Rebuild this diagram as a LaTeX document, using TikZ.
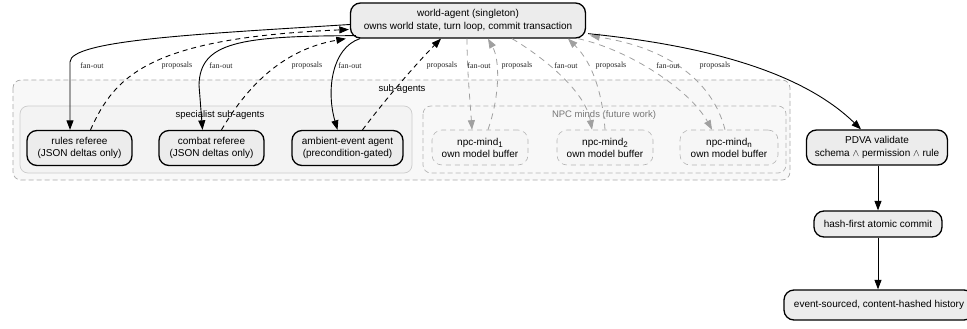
\documentclass[tikz,border=0pt]{standalone}
\usepackage{fontspec}
\setmainfont{Liberation Sans}
\newfontfamily\lblfont{Liberation Serif}
\usetikzlibrary{arrows.meta,calc}
\definecolor{nodefill}{HTML}{ECECEC}
\definecolor{outerfill}{HTML}{F8F8F8}
\definecolor{specfill}{HTML}{F3F3F3}
\definecolor{npcfill}{HTML}{F6F6F6}
\definecolor{clusterline}{HTML}{AAAAAA}
\definecolor{specline}{HTML}{CCCCCC}
\definecolor{npcline}{HTML}{B4B4B4}
\definecolor{grayedge}{HTML}{A0A0A0}
\definecolor{graytext}{HTML}{777777}
\tikzset{
  agent/.style={draw=black, line width=1.3pt, fill=nodefill, rounded corners=10pt,
    align=center, inner sep=0pt, font=\fontsize{10}{12.8}\selectfont, minimum height=34pt},
  npcbox/.style={draw=npcline, line width=0.6pt, dash pattern=on 5pt off 4pt, fill=npcfill,
    rounded corners=10pt, align=center, inner sep=0pt,
    font=\fontsize{10}{12}\selectfont, minimum height=35pt, minimum width=96pt},
  outercluster/.style={draw=clusterline, line width=0.7pt, dash pattern=on 5pt off 3pt,
    fill=outerfill, rounded corners=8pt},
  speccluster/.style={draw=specline, line width=0.7pt, fill=specfill, rounded corners=8pt},
  npccluster/.style={draw=npcline, line width=0.7pt, dash pattern=on 5pt off 3pt,
    fill=outerfill, rounded corners=8pt},
  clabel/.style={font=\fontsize{9.5}{11}\selectfont, inner sep=0pt},
  elabel/.style={font=\lblfont\fontsize{8}{9}\selectfont, inner sep=0pt, text=black!85},
  tip/.style={-{Triangle[length=9.5pt,width=7pt]}},
  fan/.style={tip, draw=black, line width=0.9pt},
  prop/.style={tip, draw=black, line width=0.9pt, dash pattern=on 5pt off 4pt},
  gfan/.style={-{Triangle[length=9.5pt,width=7pt]}, draw=grayedge, line width=0.8pt,
    dash pattern=on 6pt off 5pt},
}
\newcommand{\npcsub}[1]{\raisebox{-2.5pt}{\fontsize{8}{8}\selectfont #1}}
\begin{document}
\begin{tikzpicture}[x=1pt,y=-1pt]
\useasboundingbox (0,0) rectangle (967,329);

% clusters
\draw[outercluster] (13,80) rectangle (790,180);
\node[clabel] (lsub) at (402,89) {sub-agents};
\draw[speccluster] (20,106) rectangle (412,173);
\node[clabel] (lspec) at (220,115) {specialist sub-agents};
\draw[npccluster] (423,106) rectangle (786,173);
\node[clabel, text=graytext] (lnpc) at (604,115) {NPC minds (future work)};

% nodes
\node[agent, minimum width=235pt, minimum height=35pt] (world) at (468,20.5)
  {world-agent (singleton)\\owns world state, turn loop, commit transaction};
\node[agent, minimum width=105pt, minimum height=35pt] (rules) at (79.5,148)
  {rules referee\\(JSON deltas only)};
\node[agent, minimum width=105pt, minimum height=35pt] (combat) at (211.5,148)
  {combat referee\\(JSON deltas only)};
\node[agent, minimum width=111pt, minimum height=35pt] (ambient) at (347.5,148)
  {ambient-event agent\\(precondition-gated)};
\node[npcbox] (npc1) at (480,147.5) {npc-mind\npcsub{1}\\own model buffer};
\node[npcbox] (npc2) at (605,147.5) {npc-mind\npcsub{2}\\own model buffer};
\node[npcbox, minimum width=98pt] (npcn) at (729,147.5) {npc-mind\npcsub{n}\\own model buffer};
\node[agent, minimum width=141pt, minimum height=35pt] (pdva) at (877,147.5)
  {PDVA validate\\schema $\wedge$ permission $\wedge$ rule};
\node[agent, minimum width=128pt, minimum height=26pt] (hash) at (878,224)
  {hash-first atomic commit};
\node[agent, minimum width=190pt, minimum height=30pt] (hist) at (879,305)
  {event-sourced, content-hashed history};

% edges: specialist sub-agents
\draw[fan] ($(world.west)+(0,4)$) .. controls (200,34) and (70,40) .. (70,62)
  -- ($(rules.north)+(-9.5,0)$);
\draw[prop] ($(rules.north)+(11,0)$) .. controls (115,75) and (150,38) .. ($(world.west)+(-1,9)$);
\draw[fan] ($(world.south west)+(6,-3)$) .. controls (240,36) and (200,42) .. (199,85)
  -- ($(combat.north)+(-9,0)$);
\draw[prop] ($(combat.north)+(10,0)$) .. controls (245,90) and (280,50) .. ($(world.south west)+(-4,0)$);
\draw[fan] ($(world.south west)+(10,0)$) .. controls (332,48) and (326,90) .. ($(ambient.north)+(-10,0)$);
\draw[prop] ($(ambient.north)+(15,0)$) .. controls (385,100) and (415,65) .. ($(world.south)+(-27,0)$);

% edges: NPC minds
\draw[gfan] ($(world.south)+(-1,0)$) .. controls (467,70) and (470,100) .. ($(npc1.north)+(-8,0)$);
\draw[gfan] ($(npc1.north)+(8,0)$) .. controls (500,95) and (500,60) .. ($(world.south)+(20,0)$);
\draw[gfan] ($(world.south)+(44,0)$) .. controls (540,55) and (585,90) .. ($(npc2.north)+(-13,0)$);
\draw[gfan] ($(npc2.north)+(0,0)$) .. controls (603,100) and (595,65) .. ($(world.south)+(100,0)$);
\draw[gfan] ($(world.south)+(110,0)$) .. controls (630,50) and (690,90) .. ($(npcn.north)+(-17,0)$);
\draw[gfan] ($(npcn.north)+(-4,0)$) .. controls (715,90) and (680,50) .. ($(world.south east)+(4,-3)$);

% pipeline
\draw[fan] ($(world.south east)+(2,-5)$) .. controls (700,45) and (800,70) .. ($(pdva.north)+(-16,0)$);
\draw[fan] (pdva.south -| hash.north) -- (hash.north);
\draw[fan] (hash.south) -- (hash.south |- hist.north);

% edge labels
\node[elabel] (l1) at (92,66) {fan-out};
\node[elabel] (l2) at (177,66) {proposals};
\node[elabel] (l3) at (221,66) {fan-out};
\node[elabel] (l4) at (307,66) {proposals};
\node[elabel] (l5) at (350,66) {fan-out};
\node[elabel] (l6) at (442,66) {proposals};
\node[elabel] (l7) at (479,66) {fan-out};
\node[elabel] (l8) at (517,66) {proposals};
\node[elabel] (l9) at (566,66) {fan-out};
\node[elabel] (l10) at (611,66) {proposals};
\node[elabel] (l11) at (668,66) {fan-out};
\node[elabel] (l12) at (715,66) {proposals};
\end{tikzpicture}
\end{document}
